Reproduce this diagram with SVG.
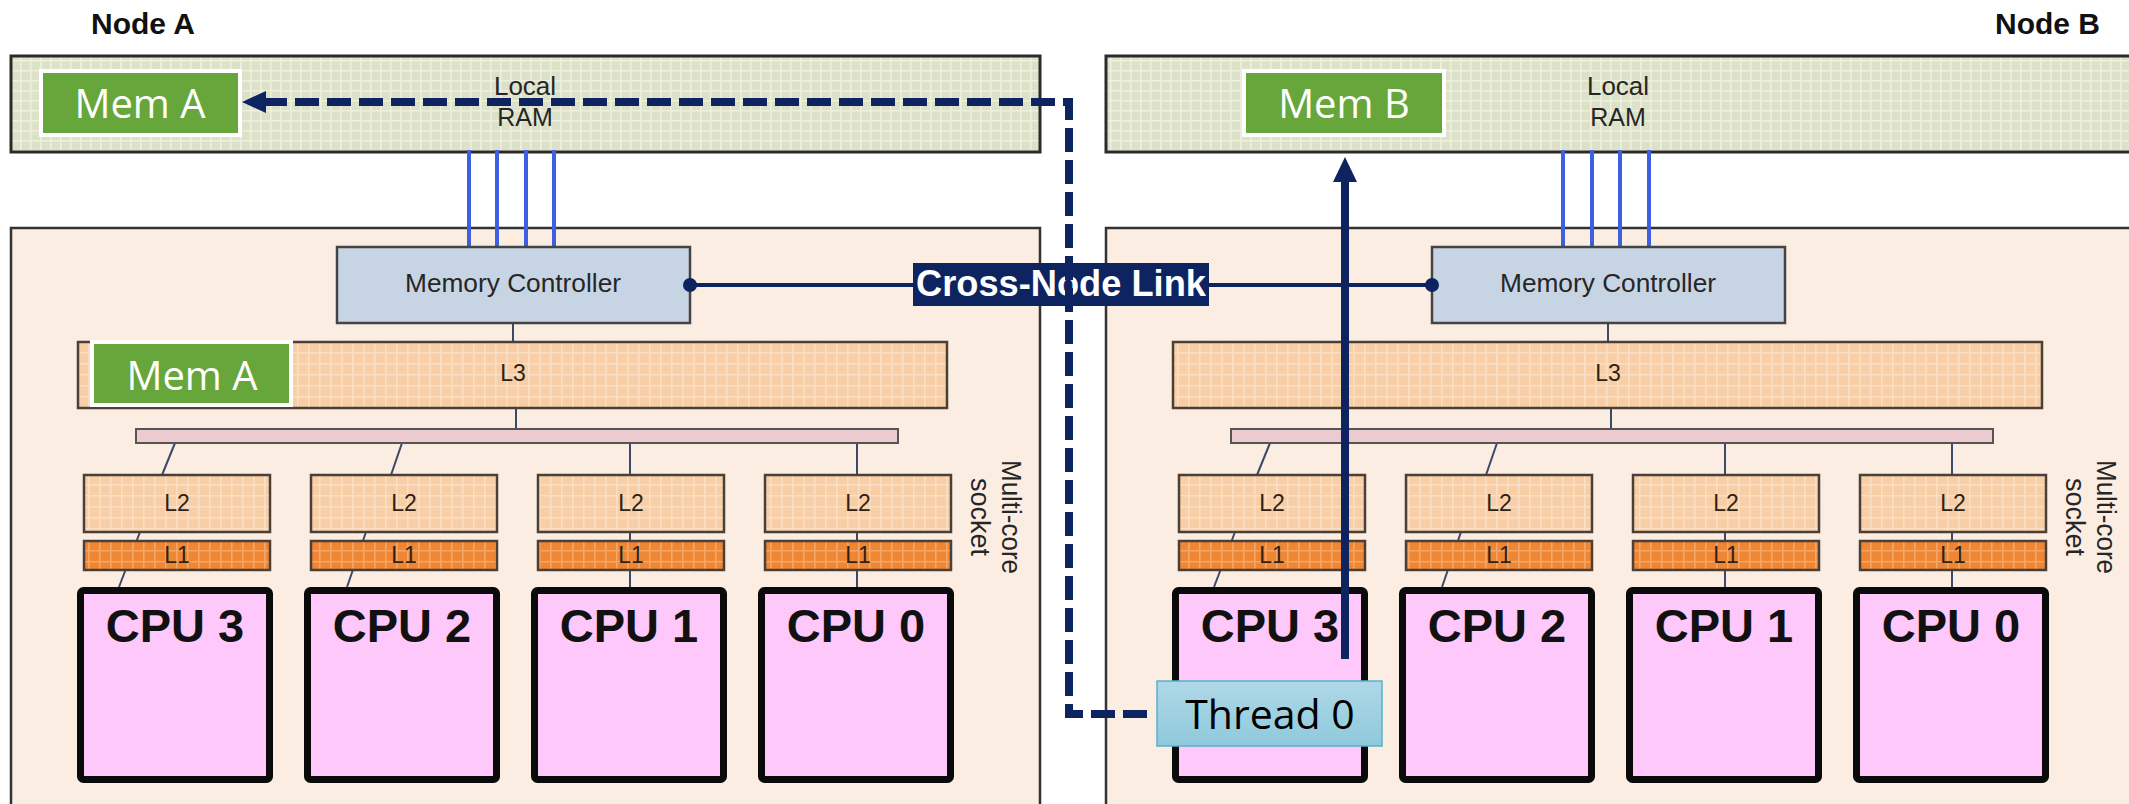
<svg xmlns="http://www.w3.org/2000/svg" width="2129" height="804" viewBox="0 0 2129 804">
  <defs>
    <!-- fine grid fills used by the RAM and cache blocks -->
    <pattern id="grid-ram" width="10" height="10" patternUnits="userSpaceOnUse">
      <rect width="10" height="10" fill="#dce2c9"/>
      <path d="M0 0.8H10M0.8 0V10" stroke="#eef0dc" stroke-width="1.6"/>
    </pattern>
    <pattern id="grid-cache" width="11" height="11" patternUnits="userSpaceOnUse">
      <rect width="11" height="11" fill="#f8cea6"/>
      <path d="M0 0.8H11M0.8 0V11" stroke="#fbdfc4" stroke-width="1.6"/>
    </pattern>
    <pattern id="grid-l1" width="11" height="11" patternUnits="userSpaceOnUse">
      <rect width="11" height="11" fill="#ef8634"/>
      <path d="M0 0.8H11M0.8 0V11" stroke="#f5a566" stroke-width="1.6"/>
    </pattern>
    <linearGradient id="thread-fill" x1="0" y1="0" x2="0" y2="1">
      <stop offset="0" stop-color="#afd8e7"/>
      <stop offset="1" stop-color="#8ecadc"/>
    </linearGradient>
    <marker id="dot" markerUnits="userSpaceOnUse" markerWidth="16" markerHeight="16" refX="8" refY="8">
      <circle cx="8" cy="8" r="7" fill="#0d2460"/>
    </marker>
  </defs>
  <style>
    .ram { fill: url(#grid-ram); stroke: #2b2b2b; stroke-width: 3; }
    .socket { fill: #fcede2; stroke: #333; stroke-width: 2.5; }
    .mc { fill: #c6d4e4; stroke: #444; stroke-width: 2.5; }
    .l3, .l2 { fill: url(#grid-cache); stroke: #4a4038; stroke-width: 2.5; }
    .l1 { fill: url(#grid-l1); stroke: #4a4038; stroke-width: 2.5; }
    .bus { fill: #ebcbd0; stroke: #555; stroke-width: 2; }
    .cpu { fill: #fec8fa; stroke: #0a0a0a; stroke-width: 7; }
    .wire { stroke: #3b4a66; stroke-width: 2; fill: none; }
    .ramline { stroke: #3d5fe0; stroke-width: 4; }
    .lbl { font-family: "Liberation Sans", Arial, sans-serif; fill: #262626; text-anchor: middle; }
    .cache-t { font-family: "Liberation Sans", Arial, sans-serif; fill: #2e2214; text-anchor: middle; font-size: 23px; }
    .cpu-t { font-family: "Liberation Sans", Arial, sans-serif; font-weight: bold; font-size: 47px; fill: #111; text-anchor: middle; }
    .node-t { font-family: "Liberation Sans", Arial, sans-serif; font-weight: bold; font-size: 30px; fill: #111; }
    .mem { fill: #66a63a; stroke: #ffffff; stroke-width: 4; }
    .mem-t { font-family: "Open Sans", "Noto Sans", sans-serif; font-size: 40px; fill: #ffffff; text-anchor: middle; }
    .flow { stroke: #0d2460; stroke-width: 8; fill: none; }
  </style>

  <rect width="2129" height="804" fill="#ffffff"/>

  <!-- ================= Node A ================= -->
  <g id="node-a">
    <text class="node-t" x="91" y="34">Node A</text>
    <g id="ram-a">
      <rect class="ram" x="11" y="56" width="1029" height="96"/>
      <text class="lbl" x="525" y="95" font-size="25" textLength="62" lengthAdjust="spacingAndGlyphs">Local</text>
      <text class="lbl" x="525" y="126" font-size="25">RAM</text>
    </g>
    <g id="socket-a">
      <rect class="socket" x="11" y="228" width="1029" height="600"/>
      <text class="lbl" font-size="27" transform="translate(1002,517) rotate(90)" textLength="114" lengthAdjust="spacingAndGlyphs">Multi-core</text>
      <text class="lbl" font-size="27" transform="translate(971,517) rotate(90)">socket</text>
    </g>
    <g id="ram-bus-a">
      <line class="ramline" x1="469" y1="150" x2="469" y2="247"/>
      <line class="ramline" x1="497" y1="150" x2="497" y2="247"/>
      <line class="ramline" x1="526" y1="150" x2="526" y2="247"/>
      <line class="ramline" x1="554" y1="150" x2="554" y2="247"/>
    </g>
    <g id="wires-a">
      <line class="wire" x1="513" y1="323" x2="513" y2="342"/>
      <line class="wire" x1="516" y1="408" x2="516" y2="429"/>
      <line class="wire" x1="175" y1="443" x2="162" y2="475"/>
      <line class="wire" x1="402" y1="443" x2="391" y2="475"/>
      <line class="wire" x1="630" y1="443" x2="630" y2="475"/>
      <line class="wire" x1="857" y1="443" x2="857" y2="475"/>
      <line class="wire" x1="140" y1="532" x2="119" y2="587"/>
      <line class="wire" x1="366" y1="532" x2="347" y2="587"/>
      <line class="wire" x1="630" y1="532" x2="630" y2="587"/>
      <line class="wire" x1="857" y1="532" x2="857" y2="587"/>
    </g>
    <g id="mc-a">
      <rect class="mc" x="337" y="247" width="353" height="76"/>
      <text class="lbl" x="513" y="292" font-size="25" textLength="216" lengthAdjust="spacingAndGlyphs">Memory Controller</text>
    </g>
    <g id="l3-a">
      <rect class="l3" x="78" y="342" width="869" height="66"/>
      <text class="cache-t" x="513" y="381">L3</text>
    </g>
    <rect id="bus-a" class="bus" x="136" y="429" width="762" height="14"/>
    <g id="core3-a">
      <rect class="l2" x="84" y="475" width="186" height="57"/>
      <text class="cache-t" x="177" y="511">L2</text>
      <rect class="l1" x="84" y="541" width="186" height="29"/>
      <text class="cache-t" x="177" y="563" font-size="21">L1</text>
      <rect class="cpu" x="80.5" y="590.5" width="189" height="189" rx="3"/>
      <text class="cpu-t" x="175" y="642">CPU 3</text>
    </g>
    <g id="core2-a">
      <rect class="l2" x="311" y="475" width="186" height="57"/>
      <text class="cache-t" x="404" y="511">L2</text>
      <rect class="l1" x="311" y="541" width="186" height="29"/>
      <text class="cache-t" x="404" y="563" font-size="21">L1</text>
      <rect class="cpu" x="307.5" y="590.5" width="189" height="189" rx="3"/>
      <text class="cpu-t" x="402" y="642">CPU 2</text>
    </g>
    <g id="core1-a">
      <rect class="l2" x="538" y="475" width="186" height="57"/>
      <text class="cache-t" x="631" y="511">L2</text>
      <rect class="l1" x="538" y="541" width="186" height="29"/>
      <text class="cache-t" x="631" y="563" font-size="21">L1</text>
      <rect class="cpu" x="534.5" y="590.5" width="189" height="189" rx="3"/>
      <text class="cpu-t" x="629" y="642">CPU 1</text>
    </g>
    <g id="core0-a">
      <rect class="l2" x="765" y="475" width="186" height="57"/>
      <text class="cache-t" x="858" y="511">L2</text>
      <rect class="l1" x="765" y="541" width="186" height="29"/>
      <text class="cache-t" x="858" y="563" font-size="21">L1</text>
      <rect class="cpu" x="761.5" y="590.5" width="189" height="189" rx="3"/>
      <text class="cpu-t" x="856" y="642">CPU 0</text>
    </g>
  </g>

  <!-- ================= Node B ================= -->
  <g id="node-b">
    <text class="node-t" x="2100" y="34" text-anchor="end">Node B</text>
    <g id="ram-b">
      <rect class="ram" x="1106" y="56" width="1040" height="96"/>
      <text class="lbl" x="1618" y="95" font-size="25" textLength="62" lengthAdjust="spacingAndGlyphs">Local</text>
      <text class="lbl" x="1618" y="126" font-size="25">RAM</text>
    </g>
    <g id="socket-b">
      <rect class="socket" x="1106" y="228" width="1040" height="600"/>
      <text class="lbl" font-size="27" transform="translate(2097,517) rotate(90)" textLength="114" lengthAdjust="spacingAndGlyphs">Multi-core</text>
      <text class="lbl" font-size="27" transform="translate(2066,517) rotate(90)">socket</text>
    </g>
    <g id="ram-bus-b">
      <line class="ramline" x1="1563" y1="150" x2="1563" y2="247"/>
      <line class="ramline" x1="1592" y1="150" x2="1592" y2="247"/>
      <line class="ramline" x1="1620" y1="150" x2="1620" y2="247"/>
      <line class="ramline" x1="1649" y1="150" x2="1649" y2="247"/>
    </g>
    <g id="wires-b">
      <line class="wire" x1="1608" y1="323" x2="1608" y2="342"/>
      <line class="wire" x1="1611" y1="408" x2="1611" y2="429"/>
      <line class="wire" x1="1270" y1="443" x2="1257" y2="475"/>
      <line class="wire" x1="1497" y1="443" x2="1486" y2="475"/>
      <line class="wire" x1="1725" y1="443" x2="1725" y2="475"/>
      <line class="wire" x1="1952" y1="443" x2="1952" y2="475"/>
      <line class="wire" x1="1235" y1="532" x2="1214" y2="587"/>
      <line class="wire" x1="1461" y1="532" x2="1442" y2="587"/>
      <line class="wire" x1="1725" y1="532" x2="1725" y2="587"/>
      <line class="wire" x1="1952" y1="532" x2="1952" y2="587"/>
    </g>
    <g id="mc-b">
      <rect class="mc" x="1432" y="247" width="353" height="76"/>
      <text class="lbl" x="1608" y="292" font-size="25" textLength="216" lengthAdjust="spacingAndGlyphs">Memory Controller</text>
    </g>
    <g id="l3-b">
      <rect class="l3" x="1173" y="342" width="869" height="66"/>
      <text class="cache-t" x="1608" y="381">L3</text>
    </g>
    <rect id="bus-b" class="bus" x="1231" y="429" width="762" height="14"/>
    <g id="core3-b">
      <rect class="l2" x="1179" y="475" width="186" height="57"/>
      <text class="cache-t" x="1272" y="511">L2</text>
      <rect class="l1" x="1179" y="541" width="186" height="29"/>
      <text class="cache-t" x="1272" y="563" font-size="21">L1</text>
      <rect class="cpu" x="1175.5" y="590.5" width="189" height="189" rx="3"/>
      <text class="cpu-t" x="1270" y="642">CPU 3</text>
    </g>
    <g id="core2-b">
      <rect class="l2" x="1406" y="475" width="186" height="57"/>
      <text class="cache-t" x="1499" y="511">L2</text>
      <rect class="l1" x="1406" y="541" width="186" height="29"/>
      <text class="cache-t" x="1499" y="563" font-size="21">L1</text>
      <rect class="cpu" x="1402.5" y="590.5" width="189" height="189" rx="3"/>
      <text class="cpu-t" x="1497" y="642">CPU 2</text>
    </g>
    <g id="core1-b">
      <rect class="l2" x="1633" y="475" width="186" height="57"/>
      <text class="cache-t" x="1726" y="511">L2</text>
      <rect class="l1" x="1633" y="541" width="186" height="29"/>
      <text class="cache-t" x="1726" y="563" font-size="21">L1</text>
      <rect class="cpu" x="1629.5" y="590.5" width="189" height="189" rx="3"/>
      <text class="cpu-t" x="1724" y="642">CPU 1</text>
    </g>
    <g id="core0-b">
      <rect class="l2" x="1860" y="475" width="186" height="57"/>
      <text class="cache-t" x="1953" y="511">L2</text>
      <rect class="l1" x="1860" y="541" width="186" height="29"/>
      <text class="cache-t" x="1953" y="563" font-size="21">L1</text>
      <rect class="cpu" x="1856.5" y="590.5" width="189" height="189" rx="3"/>
      <text class="cpu-t" x="1951" y="642">CPU 0</text>
    </g>
  </g>

  <!-- ================= Connectors ================= -->
  <g id="connectors">
    <!-- link between the two memory controllers -->
    <line x1="690" y1="285" x2="1432" y2="285" stroke="#0d2460" stroke-width="4" marker-start="url(#dot)" marker-end="url(#dot)"/>
    <g id="link-label">
      <rect x="913" y="263" width="296" height="43" fill="#0d2460"/>
      <text x="1061" y="296" font-family="Liberation Sans, Arial, sans-serif" font-weight="bold" font-size="37" fill="#ffffff" text-anchor="middle" textLength="290" lengthAdjust="spacingAndGlyphs">Cross-Node Link</text>
    </g>
    <!-- remote access path: thread on node B to memory on node A -->
    <path class="flow" d="M1147 714H1069V102H265" stroke-dasharray="24 8"/>
    <polygon points="242,102 266,91 266,113" fill="#0d2460"/>
    <!-- local access path: thread on node B to memory on node B -->
    <line class="flow" x1="1345" y1="659" x2="1345" y2="180"/>
    <polygon points="1345,157 1333,182 1357,182" fill="#0d2460"/>
  </g>

  <!-- ================= Callouts ================= -->
  <g id="mem-a-ram">
    <rect class="mem" x="41" y="71" width="199" height="64"/>
    <text class="mem-t" x="140" y="118">Mem A</text>
  </g>
  <g id="mem-a-l3">
    <rect class="mem" x="92" y="342" width="199" height="63"/>
    <text class="mem-t" x="192" y="390">Mem A</text>
  </g>
  <g id="mem-b-ram">
    <rect class="mem" x="1244" y="71" width="200" height="64"/>
    <text class="mem-t" x="1344" y="118">Mem B</text>
  </g>
  <g id="thread-0">
    <rect x="1157" y="681" width="225" height="65" fill="url(#thread-fill)" stroke="#55b2cc" stroke-width="1.5"/>
    <text x="1270" y="729" font-family="Open Sans, Noto Sans, sans-serif" font-size="41" fill="#000" text-anchor="middle">Thread 0</text>
  </g>
</svg>
